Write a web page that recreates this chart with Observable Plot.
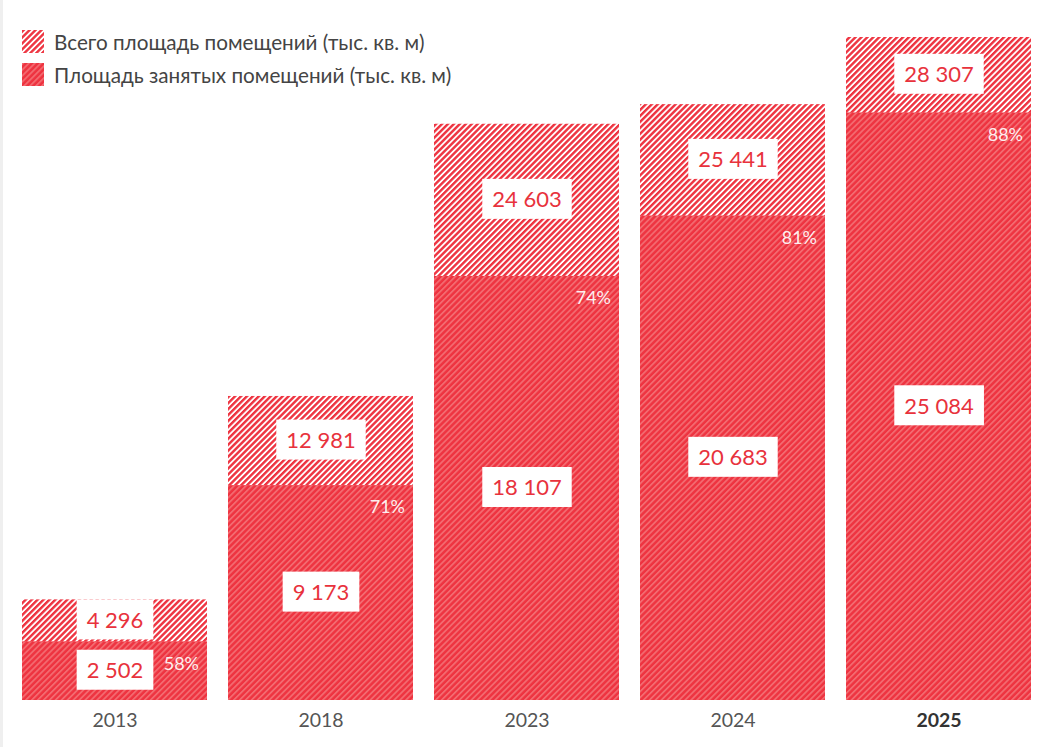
<!DOCTYPE html>
<html>
<head>
<meta charset="utf-8">
<script src="https://cdn.jsdelivr.net/npm/d3@7"></script>
<script src="https://cdn.jsdelivr.net/npm/@observablehq/plot@0.6"></script>
<style>
  html, body { margin: 0; padding: 0; background: #fff; }
  #wrap { position: relative; width: 1043px; height: 747px; font-family: Lato, "Noto Sans", sans-serif; overflow: hidden; }
  #edge { position: absolute; left: 0; top: 0; width: 3px; height: 747px; background: #efefef; }
  #legend { position: absolute; left: 22px; top: 25px; }
  .lg { display: flex; align-items: center; height: 33px; font-size: 20.7px; color: #444; }
  .sw { width: 22px; height: 23px; margin-right: 10px; }
</style>
</head>
<body>
<div id="wrap">
  <div id="chart"></div>
  <div id="edge"></div>
  <div id="legend"></div>
</div>
<script>
// ---- data ----
const years = ["2013", "2018", "2023", "2024", "2025"];
const totalArea = [4296, 12981, 24603, 25441, 28307];
const occupiedArea = [2502, 9173, 18107, 20683, 25084];
const occupancyLabels = ["58%", "71%", "74%", "81%", "88%"];
const seriesNames = ["Всего площадь помещений (тыс. кв. м)", "Площадь занятых помещений (тыс. кв. м)"];
const boldYear = "2025";

const rows = years.map((y, i) => ({
  year: y, total: totalArea[i], occupied: occupiedArea[i], pct: occupancyLabels[i]
}));

const fmt = d3.formatLocale({ thousands: " ", grouping: [3], decimal: "," }).format(",d");
const RED = "#ee3340";
const LABEL_RED = "#e8323c";

const plot = Plot.plot({
  width: 1043,
  height: 747,
  marginLeft: 22,
  marginRight: 12,
  marginTop: 37,
  marginBottom: 47,
  style: { fontFamily: "Lato, 'Noto Sans', sans-serif", background: "transparent", overflow: "visible" },
  x: { domain: years, paddingInner: 0.102, paddingOuter: 0, label: null },
  y: { domain: [0, d3.max(totalArea)], axis: null },
  marks: [
    Plot.barY(rows, { x: "year", y: "total", fill: "url(#hatchTotal)", insetLeft: 0, insetRight: 0 }),
    Plot.barY(rows, { x: "year", y: "occupied", fill: "url(#hatchOcc)", insetLeft: 0, insetRight: 0 }),
    Plot.text(rows, {
      x: "year", y: d => (d.total + d.occupied) / 2, text: d => fmt(d.total),
      fill: LABEL_RED, fontSize: 22, lineAnchor: "middle", className: "vlabel"
    }),
    Plot.text(rows, {
      x: "year", y: d => d.occupied / 2, text: d => fmt(d.occupied),
      fill: LABEL_RED, fontSize: 22, lineAnchor: "middle", className: "vlabel"
    }),
    Plot.text(rows, {
      x: "year", y: "occupied", text: "pct", textAnchor: "end", dx: 84, dy: 22,
      lineAnchor: "middle", fill: "#fff", fillOpacity: 0.93, fontSize: 18
    }),
    Plot.axisX(years.filter(y => y !== boldYear), {
      tickSize: 0, tickPadding: 13, fontSize: 19.5, fill: "#555", label: null
    }),
    Plot.axisX([boldYear], {
      tickSize: 0, tickPadding: 13, fontSize: 19.5, fill: "#333", fontWeight: "bold", label: null
    })
  ]
});

document.getElementById("chart").appendChild(plot);

// patterns
const svg = d3.select(plot);
const defs = svg.insert("defs", ":first-child");
const pT = defs.append("pattern").attr("id", "hatchTotal").attr("patternUnits", "userSpaceOnUse")
  .attr("width", 4.2).attr("height", 4.2).attr("patternTransform", "rotate(45)");
pT.append("rect").attr("width", 4.2).attr("height", 4.2).attr("fill", "#fff");
pT.append("rect").attr("width", 2.4).attr("height", 4.2).attr("fill", RED);
const pO = defs.append("pattern").attr("id", "hatchOcc").attr("patternUnits", "userSpaceOnUse")
  .attr("width", 4.2).attr("height", 4.2).attr("patternTransform", "rotate(45)");
pO.append("rect").attr("width", 4.2).attr("height", 4.2).attr("fill", RED);
pO.append("rect").attr("width", 1.8).attr("height", 4.2).attr("fill", "#f36a70");

// white boxes behind value labels
svg.selectAll("g.vlabel text").each(function () {
  const b = this.getBBox();
  const h = 40, padX = 10;
  const cy = b.y + b.height / 2;
  d3.select(this.parentNode).insert("rect", () => this)
    .attr("x", b.x - padX).attr("y", cy - h / 2)
    .attr("width", b.width + 2 * padX).attr("height", h)
    .attr("fill", "#fff")
    .attr("transform", this.getAttribute("transform"));
});

// legend
const legend = d3.select("#legend");
seriesNames.forEach((name, i) => {
  const row = legend.append("div").attr("class", "lg");
  const s = row.append("svg").attr("class", "sw").attr("width", 22).attr("height", 23);
  s.append("rect").attr("width", 22).attr("height", 23).attr("fill", i === 0 ? "url(#hatchTotal)" : "url(#hatchOcc)");
  row.append("span").text(name);
});
</script>
</body>
</html>
